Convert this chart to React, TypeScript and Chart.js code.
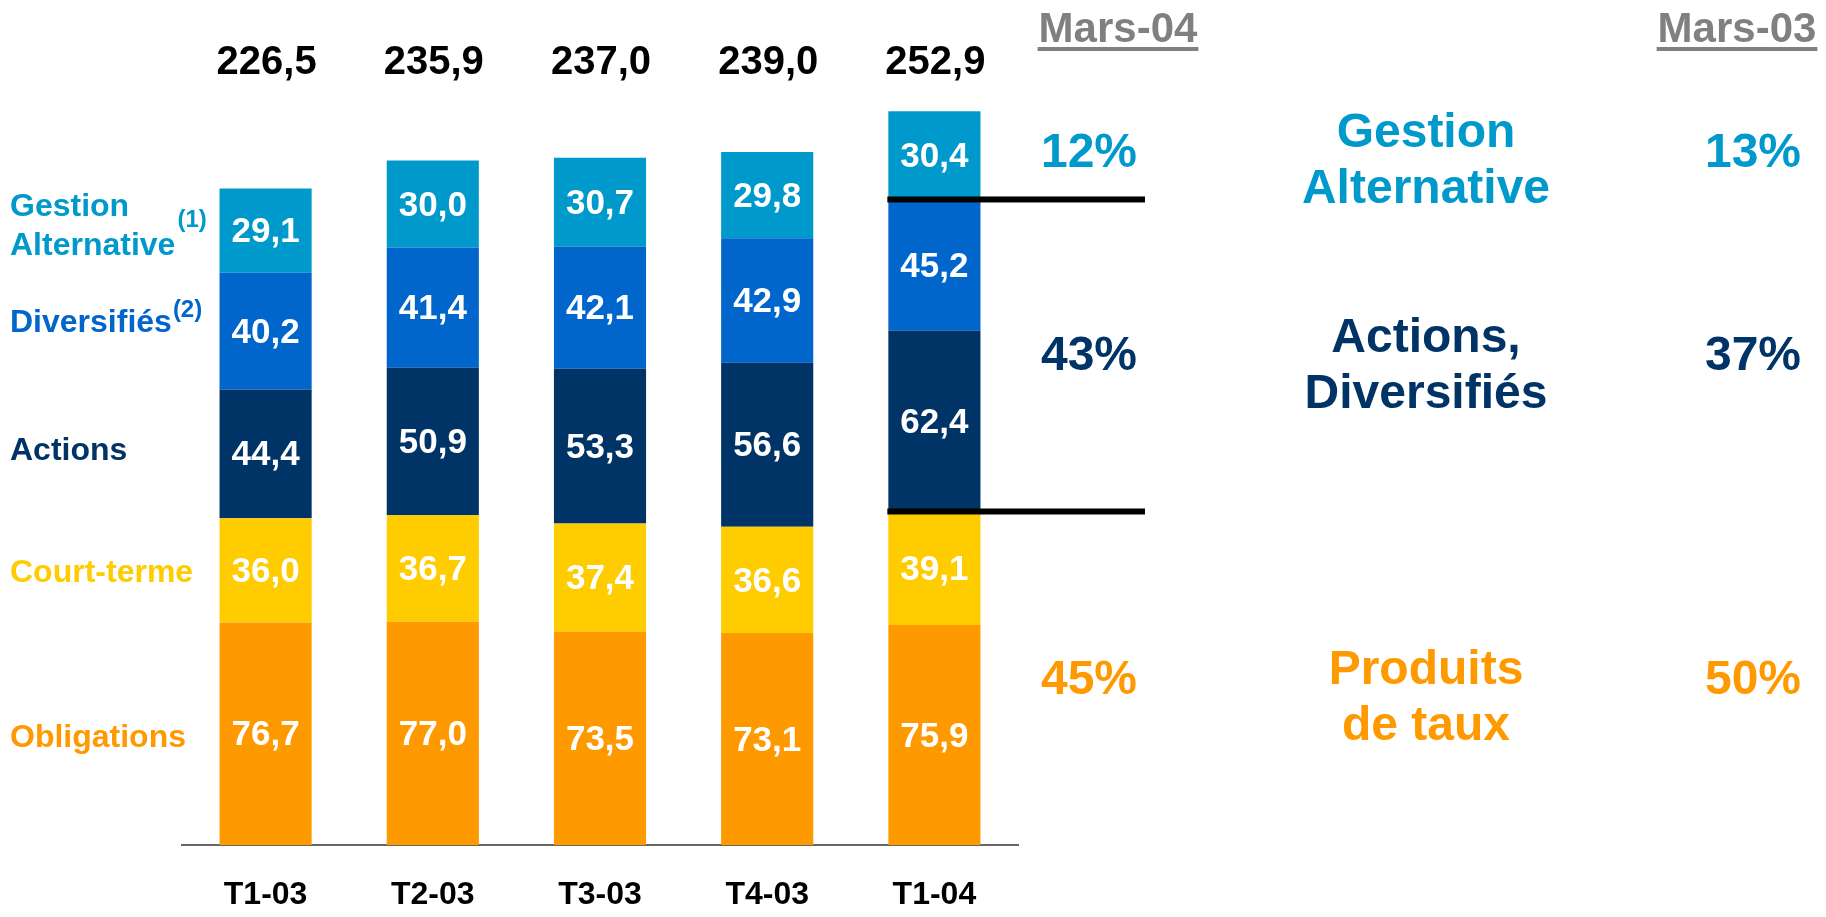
import React, { useEffect, useRef } from 'react';
import { Chart, registerables } from 'chart.js';

Chart.register(...registerables);

const categories = ['T1-03', 'T2-03', 'T3-03', 'T4-03', 'T1-04'];
const obligations = [76.7, 77.0, 73.5, 73.1, 75.9];
const courtTerme = [36.0, 36.7, 37.4, 36.6, 39.1];
const actions = [44.4, 50.9, 53.3, 56.6, 62.4];
const diversifies = [40.2, 41.4, 42.1, 42.9, 45.2];
const gestionAlt = [29.1, 30.0, 30.7, 29.8, 30.4];
const totals = [226.5, 235.9, 237.0, 239.0, 252.9];
const seriesNames = ['Obligations', 'Court-terme', 'Actions', 'Diversifiés', 'Gestion Alternative'];
const seriesColors = ['#FF9900', '#FFCC00', '#003366', '#0066CC', '#0099CC'];
const headerLabels = ['Mars-04', 'Mars-03'];
const mars04Pct = ['12%', '43%', '45%'];
const mars03Pct = ['13%', '37%', '50%'];
const groupLabels = [['Gestion', 'Alternative'], ['Actions,', 'Diversifiés'], ['Produits', 'de taux']];
const groupColors = ['#0099CC', '#003366', '#FF9900'];

const FONT = "'Liberation Sans', Arial, Helvetica, sans-serif";
const fmt = (v: number) => v.toFixed(1).replace('.', ',');

const overlayPlugin = {
  id: 'overlay',
  afterDatasetsDraw(chart: any) {
    const ctx = chart.ctx as CanvasRenderingContext2D;
    ctx.save();
    // segment value labels
    ctx.textAlign = 'center';
    ctx.textBaseline = 'middle';
    ctx.fillStyle = '#ffffff';
    ctx.font = `bold 35px ${FONT}`;
    chart.data.datasets.forEach((ds: any, di: number) => {
      const meta = chart.getDatasetMeta(di);
      meta.data.forEach((el: any, i: number) => {
        const cy = (el.y + el.base) / 2 + 2;
        ctx.fillText(fmt(ds.data[i]), el.x, cy);
      });
    });
    // totals above
    ctx.fillStyle = '#000000';
    ctx.font = `bold 40px ${FONT}`;
    ctx.textBaseline = 'alphabetic';
    const m0 = chart.getDatasetMeta(0);
    m0.data.forEach((el: any, i: number) => {
      ctx.fillText(fmt(totals[i]), el.x + 1, 74);
    });
    // separator lines on last bar
    const last = categories.length - 1;
    const topEl: any = chart.getDatasetMeta(3).data[last];
    const midEl: any = chart.getDatasetMeta(1).data[last];
    const x0 = topEl.x - topEl.width / 2 - 1;
    ctx.fillStyle = '#000000';
    ctx.fillRect(x0, topEl.y - 3, 1145 - x0, 6);
    ctx.fillRect(x0, midEl.y - 3, 1145 - x0, 6);

    // left series labels
    ctx.textAlign = 'left';
    ctx.font = `bold 32px ${FONT}`;
    ctx.fillStyle = seriesColors[4];
    ctx.fillText('Gestion', 10, 216);
    ctx.fillText('Alternative', 10, 255);
    const wAlt = ctx.measureText('Alternative').width;
    ctx.fillStyle = seriesColors[3];
    ctx.fillText(seriesNames[3], 10, 332);
    const wDiv = ctx.measureText(seriesNames[3]).width;
    ctx.fillStyle = seriesColors[2];
    ctx.fillText(seriesNames[2], 10, 460);
    ctx.fillStyle = seriesColors[1];
    ctx.fillText(seriesNames[1], 10, 582);
    ctx.fillStyle = seriesColors[0];
    ctx.fillText(seriesNames[0], 10, 747);
    ctx.font = `bold 24px ${FONT}`;
    ctx.fillStyle = seriesColors[4];
    ctx.fillText('(1)', 10 + wAlt + 2, 227);
    ctx.fillStyle = seriesColors[3];
    ctx.fillText('(2)', 10 + wDiv + 1, 317);

    // right headers
    ctx.textAlign = 'center';
    ctx.font = `bold 42px ${FONT}`;
    ctx.fillStyle = '#808080';
    const hx = [1118, 1737];
    headerLabels.forEach((h, i) => {
      ctx.fillText(h, hx[i], 42);
      const w = ctx.measureText(h).width;
      ctx.fillRect(hx[i] - w / 2 - 1, 47, w + 2, 4);
    });
    // percentages
    const pctY = [167, 370, 694];
    ctx.font = `bold 48px ${FONT}`;
    mars04Pct.forEach((p, i) => {
      ctx.fillStyle = groupColors[i];
      ctx.fillText(p, 1089, pctY[i]);
    });
    mars03Pct.forEach((p, i) => {
      ctx.fillStyle = groupColors[i];
      ctx.fillText(p, 1753, pctY[i]);
    });
    // group names
    const gy = [[147, 203], [352, 408], [684, 740]];
    groupLabels.forEach((lines, i) => {
      ctx.fillStyle = groupColors[i];
      lines.forEach((l, j) => ctx.fillText(l, 1426, gy[i][j]));
    });
    ctx.restore();
  },
};

export default function App() {
  const ref = useRef<HTMLCanvasElement>(null);
  useEffect(() => {
    const values = [obligations, courtTerme, actions, diversifies, gestionAlt];
    const chart = new Chart(ref.current as HTMLCanvasElement, {
      type: 'bar',
      data: {
        labels: categories,
        datasets: values.map((d, i) => ({
          label: seriesNames[i],
          data: d,
          backgroundColor: seriesColors[i],
          borderWidth: 0,
          barPercentage: 0.551,
          categoryPercentage: 1,
        })),
      },
      options: {
        responsive: false,
        animation: false,
        devicePixelRatio: 1,
        layout: { padding: { left: 182, right: 808, top: 91, bottom: 0 } },
        plugins: { legend: { display: false }, tooltip: { enabled: false } },
        scales: {
          x: {
            stacked: true,
            grid: { display: false, drawTicks: false },
            border: { display: true, color: '#666666', width: 2 },
            ticks: {
              padding: 31,
              color: '#000000',
              font: { family: FONT, size: 32, weight: 'bold' },
            },
            afterFit: (scale: any) => {
              scale.height = 72;
            },
          },
          y: {
            stacked: true,
            display: false,
            min: 0,
            max: 260,
          },
        },
      } as any,
      plugins: [overlayPlugin],
    });
    return () => chart.destroy();
  }, []);
  return (
    <div style={{ position: 'absolute', left: 0, top: 0, width: 1826, height: 917, background: '#ffffff' }}>
      <canvas ref={ref} width={1826} height={917} style={{ display: 'block' }} />
    </div>
  );
}
